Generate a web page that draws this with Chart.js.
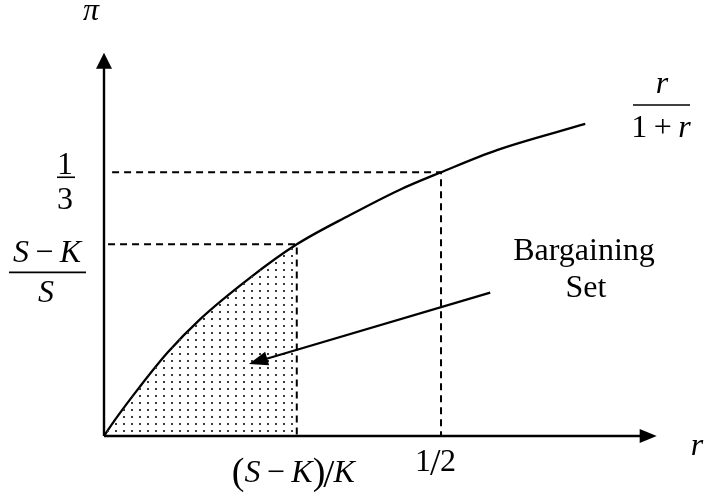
<!DOCTYPE html>
<html>
<head>
<meta charset="utf-8">
<script src="https://cdn.jsdelivr.net/npm/chart.js@4"></script>
<style>
  html, body { margin: 0; padding: 0; background: #fff; }
  #wrap { width: 708px; height: 497px; }
</style>
</head>
<body>
<div id="wrap"><canvas id="chart" width="708" height="497"></canvas></div>
<script>
// points read along the r/(1+r) curve
const curveR  = [0, 0.016, 0.053, 0.094, 0.142, 0.217, 0.286, 0.365, 0.439, 0.5, 0.583, 0.714];
const curvePi = [0, 0.020, 0.062, 0.105, 0.147, 0.200, 0.242, 0.279, 0.311, 0.333, 0.361, 0.394];

// guide values: (S-K)/K on r, (S-K)/S on pi, plus 1/2 and 1/3
const rMid = 0.286, piMid = 0.242;
const rHalf = 0.5, piThird = 0.333;

// axis extents (arrow tips) and the bargaining-set pointer
const rAxisEnd = 0.82, piAxisEnd = 0.484;
const pointerFrom = [0.573, 0.181];
const pointerTo = [0.215, 0.091];

const curvePts = curveR.map((r, i) => ({ x: r, y: curvePi[i] }));
const shadePts = curvePts.filter(p => p.x <= rMid);

// dotted fill for the bargaining set
function dotPattern() {
  const c = document.createElement('canvas');
  c.width = 8; c.height = 7;
  const g = c.getContext('2d');
  g.fillStyle = '#3c3c3c';
  g.fillRect(3, 3, 2, 2);
  return document.getElementById('chart').getContext('2d').createPattern(c, 'repeat');
}

const serif = "'Liberation Serif', 'Times New Roman', serif";
const up = '32px ' + serif;
const it = 'italic 32px ' + serif;

// draw runs of [text, font] centred on cx with baseline y
function runs(ctx, parts, cx, y) {
  let w = 0;
  parts.forEach(p => { ctx.font = p[1]; w += ctx.measureText(p[0]).width; });
  let x = cx - w / 2;
  parts.forEach(p => {
    ctx.font = p[1];
    ctx.fillText(p[0], x, y);
    x += ctx.measureText(p[0]).width;
  });
  return w;
}

function bar(ctx, x1, x2, y) {
  ctx.beginPath();
  ctx.moveTo(x1, y);
  ctx.lineTo(x2, y);
  ctx.lineWidth = 1.6;
  ctx.stroke();
}

function arrowHead(ctx, tx, ty, ang, len, half) {
  ctx.save();
  ctx.translate(tx, ty);
  ctx.rotate(ang);
  ctx.beginPath();
  ctx.moveTo(0, 0);
  ctx.lineTo(-len, -half);
  ctx.lineTo(-len, half);
  ctx.closePath();
  ctx.fill();
  ctx.restore();
}

const decorations = {
  id: 'decorations',
  afterDatasetsDraw(chart) {
    const ctx = chart.ctx;
    const xs = chart.scales.x, ys = chart.scales.y;
    const ox = xs.getPixelForValue(0), oy = ys.getPixelForValue(0);
    const xe = xs.getPixelForValue(rAxisEnd), ye = ys.getPixelForValue(piAxisEnd);
    ctx.save();
    ctx.strokeStyle = '#000';
    ctx.fillStyle = '#000';
    ctx.setLineDash([]);

    // axes
    ctx.lineWidth = 2.4;
    ctx.beginPath();
    ctx.moveTo(ox, oy); ctx.lineTo(xe - 10, oy);
    ctx.moveTo(ox, oy); ctx.lineTo(ox, ye + 10);
    ctx.stroke();
    arrowHead(ctx, xe, oy, 0, 17, 7);
    arrowHead(ctx, ox, ye, -Math.PI / 2, 16, 8);

    // pointer into the shaded set
    const fx = xs.getPixelForValue(pointerFrom[0]), fy = ys.getPixelForValue(pointerFrom[1]);
    const tx = xs.getPixelForValue(pointerTo[0]), ty = ys.getPixelForValue(pointerTo[1]);
    const ang = Math.atan2(ty - fy, tx - fx);
    ctx.lineWidth = 2.2;
    ctx.beginPath();
    ctx.moveTo(fx, fy);
    ctx.lineTo(tx - 14 * Math.cos(ang), ty - 14 * Math.sin(ang));
    ctx.stroke();
    arrowHead(ctx, tx, ty, ang, 19, 7);

    ctx.textBaseline = 'alphabetic';

    // axis names
    runs(ctx, [['\u03c0', it]], 91, 20);
    runs(ctx, [['r', it]], 697, 455);

    // pi tick labels
    const y3 = ys.getPixelForValue(piThird);
    runs(ctx, [['1', up]], 65, y3 + 2);
    bar(ctx, 57, 75, y3 + 5);
    runs(ctx, [['3', up]], 65, y3 + 37);

    const yM = ys.getPixelForValue(piMid);
    runs(ctx, [['S', it], ['\u2009\u2212\u2009', up], ['K', it]], 47, yM + 18);
    bar(ctx, 9, 86, yM + 28);
    runs(ctx, [['S', it]], 46, yM + 58);

    // r tick labels
    const xM = xs.getPixelForValue(rMid);
    const parts = [['S', it], ['\u2009\u2212\u2009', up], ['K', it]];
    let inner = 0;
    parts.forEach(p => { ctx.font = p[1]; inner += ctx.measureText(p[0]).width; });
    ctx.font = '38px ' + serif;
    const pw = ctx.measureText('(').width;
    ctx.font = '40px ' + serif;
    const sw = ctx.measureText('/').width;
    ctx.font = it;
    const kw = ctx.measureText('K').width;
    const total = pw * 2 + inner + sw + kw;
    let x = xM - total / 2 - 2;
    ctx.font = '38px ' + serif;
    ctx.fillText('(', x, 484); x += pw;
    runs(ctx, parts, x + inner / 2, 482); x += inner;
    ctx.font = '38px ' + serif;
    ctx.fillText(')', x, 484); x += pw;
    ctx.font = '40px ' + serif;
    ctx.fillText('/', x - 2, 487); x += sw - 3;
    ctx.font = it;
    ctx.fillText('K', x, 482);

    const xH = xs.getPixelForValue(rHalf);
    ctx.font = up;
    ctx.fillText('1', xH - 26, 471);
    ctx.font = '38px ' + serif;
    ctx.fillText('/', xH - 11, 475);
    ctx.font = up;
    ctx.fillText('2', xH - 1, 471);

    // curve label r / (1 + r)
    runs(ctx, [['r', it]], 662, 93);
    bar(ctx, 633, 690, 105);
    runs(ctx, [['1', up], ['\u2009+\u2009', up], ['r', it]], 661, 137);

    runs(ctx, [['Bargaining', up]], 584, 260);
    runs(ctx, [['Set', up]], 586, 297);

    ctx.restore();
  }
};

new Chart(document.getElementById('chart'), {
  type: 'scatter',
  data: {
    datasets: [
      {
        data: shadePts,
        showLine: true,
        fill: 'origin',
        backgroundColor: dotPattern(),
        borderWidth: 0,
        pointRadius: 0,
        cubicInterpolationMode: 'monotone'
      },
      {
        data: curvePts,
        showLine: true,
        borderColor: '#000',
        borderWidth: 2.3,
        pointRadius: 0,
        cubicInterpolationMode: 'monotone'
      },
      {
        data: [{ x: 0.012, y: piThird }, { x: rHalf, y: piThird }, { x: rHalf, y: 0 }],
        showLine: true,
        borderColor: '#000',
        borderWidth: 2,
        borderDash: [7, 5],
        pointRadius: 0
      },
      {
        data: [{ x: 0.006, y: piMid }, { x: rMid, y: piMid }, { x: rMid, y: 0 }],
        showLine: true,
        borderColor: '#000',
        borderWidth: 2,
        borderDash: [7, 5],
        pointRadius: 0
      }
    ]
  },
  options: {
    responsive: false,
    animation: false,
    layout: { padding: 0 },
    plugins: { legend: { display: false }, tooltip: { enabled: false } },
    scales: {
      x: { type: 'linear', min: -0.1543, max: 0.8961, display: false },
      y: { type: 'linear', min: -0.077, max: 0.5505, display: false }
    }
  },
  plugins: [decorations]
});
</script>
</body>
</html>
